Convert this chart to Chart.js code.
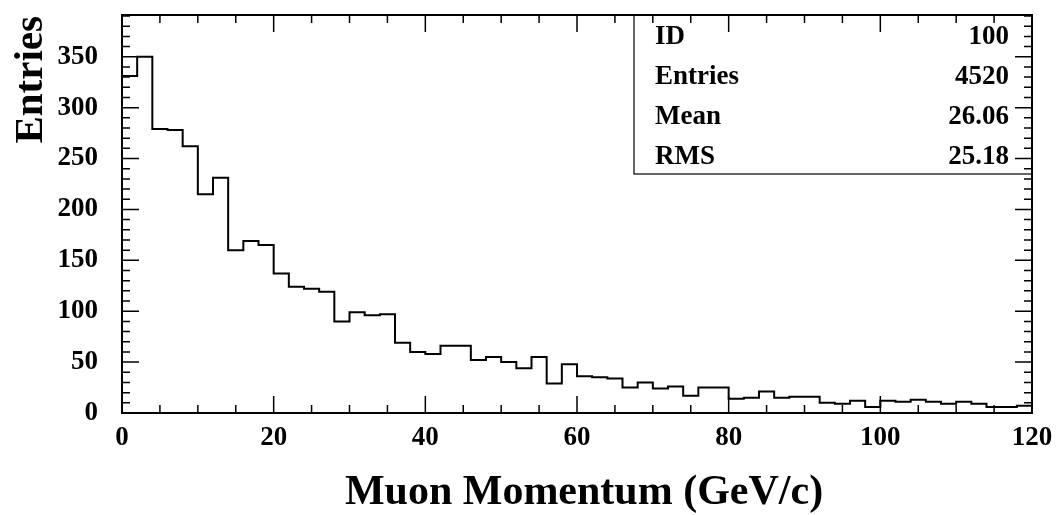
<!DOCTYPE html>
<html>
<head>
<meta charset="utf-8">
<script src="https://cdn.jsdelivr.net/npm/chart.js@4/dist/chart.umd.min.js"></script>
<style>
  html, body { margin: 0; padding: 0; background: #fff; }
  .chart-holder { width: 1058px; height: 515px; }
</style>
</head>
<body>
<div class="chart-holder"><canvas id="chart"></canvas></div>
<script>
const binLowEdges = [
  0, 2, 4, 6, 8, 10, 12, 14, 16, 18,
  20, 22, 24, 26, 28, 30, 32, 34, 36, 38,
  40, 42, 44, 46, 48, 50, 52, 54, 56, 58,
  60, 62, 64, 66, 68, 70, 72, 74, 76, 78,
  80, 82, 84, 86, 88, 90, 92, 94, 96, 98,
  100, 102, 104, 106, 108, 110, 112, 114, 116, 118,
];
const binUpperEdge = 120;
const entries = [
  331, 350, 279, 278, 262, 215, 231, 160, 169, 165,
  137, 124, 122, 119, 90, 99, 96, 97, 69, 60,
  58, 66, 66, 52, 55, 50, 44, 55, 29, 48,
  36, 35, 34, 25, 30, 24, 26, 17, 25, 25,
  14, 15, 21, 15, 16, 16, 10, 9, 12, 6,
  12, 11, 13, 11, 9, 11, 9, 6, 6, 7,
];
const xTickStep = 20;
const xMinorStep = 5;
const yTickStep = 50;
const yMinorStep = 10;
const yMax = 391;
const statLabels = ['ID', 'Entries', 'Mean', 'RMS'];
const statValues = ['100', '4520', '26.06', '25.18'];
const xTitle = 'Muon Momentum (GeV/c)';
const yTitle = 'Entries';

const SERIF = '"Liberation Serif", "DejaVu Serif", serif';

(() => {
  // step outline: one point per bin low edge plus the last upper edge
  const points = binLowEdges.map((x, i) => ({ x, y: entries[i] }));
  points.push({ x: binUpperEdge, y: entries[entries.length - 1] });

  const drawTicks = (ctx, area, scale, step, major, horizontal) => {
    for (let v = scale.min; v <= scale.max + 1e-9; v += step) {
      const len = Math.abs(v / major - Math.round(v / major)) < 1e-6 ? 17 : 8;
      const p = scale.getPixelForValue(v);
      ctx.beginPath();
      if (horizontal) {
        ctx.moveTo(p, area.bottom); ctx.lineTo(p, area.bottom - len);
        ctx.moveTo(p, area.top); ctx.lineTo(p, area.top + len);
      } else {
        ctx.moveTo(area.left, p); ctx.lineTo(area.left + len, p);
        ctx.moveTo(area.right, p); ctx.lineTo(area.right - len, p);
      }
      ctx.stroke();
    }
  };

  const rootFrame = {
    id: 'rootFrame',
    afterDatasetsDraw: (chart) => {
      const { ctx, chartArea: a } = chart;
      // stats box
      const boxLeft = 634;
      const boxBottom = 174;
      ctx.save();
      ctx.fillStyle = '#fff';
      ctx.fillRect(boxLeft, a.top, a.right - boxLeft, boxBottom - a.top);
      ctx.strokeStyle = '#000';
      ctx.lineWidth = 1.2;
      ctx.strokeRect(boxLeft, a.top, a.right - boxLeft, boxBottom - a.top);
      ctx.fillStyle = '#000';
      ctx.font = `bold 27px ${SERIF}`;
      ctx.textBaseline = 'alphabetic';
      statLabels.forEach((label, i) => {
        const y = 44 + i * 40;
        ctx.textAlign = 'left';
        ctx.fillText(label, 655, y);
        ctx.textAlign = 'right';
        ctx.fillText(statValues[i], 1009, y);
      });
      ctx.restore();
    },
    afterDraw: (chart) => {
      const { ctx, chartArea: a } = chart;
      const xs = chart.scales.x;
      const ys = chart.scales.y;
      ctx.save();
      ctx.strokeStyle = '#000';
      ctx.lineWidth = 2;
      ctx.strokeRect(a.left, a.top, a.right - a.left, a.bottom - a.top);
      ctx.lineWidth = 1.5;
      drawTicks(ctx, a, xs, xMinorStep, xTickStep, true);
      drawTicks(ctx, a, ys, yMinorStep, yTickStep, false);

      ctx.fillStyle = '#000';
      ctx.font = `bold 42px ${SERIF}`;
      ctx.textAlign = 'center';
      ctx.textBaseline = 'alphabetic';
      ctx.fillText(xTitle, 584, 504);

      ctx.translate(42, 16);
      ctx.rotate(-Math.PI / 2);
      ctx.font = `bold 41px ${SERIF}`;
      ctx.textAlign = 'right';
      ctx.fillText(yTitle, 0, 0);
      ctx.restore();
    },
  };

  const tickFont = { family: SERIF, size: 27, weight: 'bold' };

  new Chart(document.getElementById('chart'), {
    type: 'line',
    data: {
      datasets: [
        {
          data: points,
          stepped: 'before',
          borderColor: '#000',
          borderWidth: 2,
          pointRadius: 0,
          fill: false,
        },
      ],
    },
    options: {
      responsive: true,
      maintainAspectRatio: false,
      animation: false,
      events: [],
      layout: { padding: { top: 15, right: 26, left: 0, bottom: 0 } },
      plugins: { legend: { display: false }, tooltip: { enabled: false } },
      scales: {
        x: {
          type: 'linear',
          min: 0,
          max: binUpperEdge,
          grid: { display: false, drawTicks: false },
          border: { display: false },
          ticks: { stepSize: xTickStep, color: '#000', font: tickFont, padding: 9, maxRotation: 0, includeBounds: false },
          afterFit: (scale) => {
            scale.height = 102;
            scale.paddingLeft = 0;
            scale.paddingRight = 0;
          },
        },
        y: {
          type: 'linear',
          min: 0,
          max: yMax,
          grid: { display: false, drawTicks: false },
          border: { display: false },
          ticks: { stepSize: yTickStep, color: '#000', font: tickFont, padding: 24, includeBounds: false },
          afterFit: (scale) => {
            scale.width = 122;
            scale.paddingTop = 0;
            scale.paddingBottom = 0;
          },
        },
      },
    },
    plugins: [rootFrame],
  });
})();
</script>
</body>
</html>
